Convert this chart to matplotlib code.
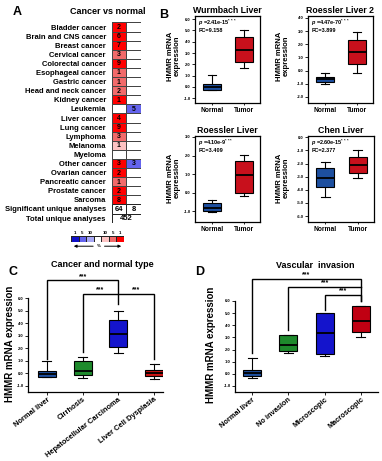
import matplotlib
matplotlib.use('Agg')
import matplotlib.pyplot as plt
import numpy as np
from matplotlib.colors import ListedColormap
from matplotlib.patches import Rectangle

plt.rcParams['font.family'] = ['Liberation Sans', 'DejaVu Sans']
plt.rcParams['font.weight'] = 'bold'
plt.rcParams['axes.labelweight'] = 'bold'
plt.rcParams['mathtext.fontset'] = 'custom'
plt.rcParams['mathtext.rm'] = 'Liberation Sans:bold'
plt.rcParams['mathtext.it'] = 'Liberation Sans:italic:bold'
plt.rcParams['mathtext.bf'] = 'Liberation Sans:bold'

# ---------------- Panel A data ----------------
cancer_types = ['Bladder cancer', 'Brain and CNS cancer', 'Breast cancer', 'Cervical cancer',
                'Colorectal cancer', 'Esophageal cancer', 'Gastric cancer', 'Head and neck cancer',
                'Kidney cancer', 'Leukemia', 'Liver cancer', 'Lung cancer', 'Lymphoma', 'Melanoma',
                'Myeloma', 'Other cancer', 'Ovarian cancer', 'Pancreatic cancer', 'Prostate cancer',
                'Sarcoma']
over_counts = [2, 6, 7, 3, 9, 1, 1, 2, 1, 0, 4, 9, 3, 1, 0, 3, 2, 1, 2, 8]
over_rank = [1, 1, 1, 5, 1, 5, 5, 5, 1, 0, 1, 1, 5, 10, 0, 1, 1, 5, 1, 1]
under_counts = [0, 0, 0, 0, 0, 0, 0, 0, 0, 5, 0, 0, 0, 0, 0, 3, 0, 0, 0, 0]
under_rank = [0, 0, 0, 0, 0, 0, 0, 0, 0, 5, 0, 0, 0, 0, 0, 5, 0, 0, 0, 0]
summary_labels = ['Significant unique analyses', 'Total unique analyses']
sig_unique = [64, 8]
total_unique = 452
legend_labels = ['1', '5', '10', '', '10', '5', '1']

# ---------------- Panel B data (whislo, q1, med, q3, whishi) ----------------
b_groups = ['Normal', 'Tumor']
wurmbach_normal = [-0.3, -0.27, 0.0, 0.27, 1.05]
wurmbach_tumor = [1.65, 2.2, 3.3, 4.4, 5.0]
roessler2_normal = [-1.0, -0.85, -0.6, -0.45, -0.15]
roessler2_tumor = [-0.15, 0.5, 1.4, 2.3, 2.9]
roessler_normal = [-1.05, -1.0, -0.8, -0.58, -0.37]
roessler_tumor = [-0.2, 0.0, 0.95, 1.73, 2.05]
chen_normal = [-4.55, -3.8, -3.1, -2.3, -1.9]
chen_tumor = [-3.1, -2.75, -2.1, -1.5, -1.0]
b_pvals = ['2.41e-15', '4.47e-70', '4.10e-9', '2.60e-15']
b_fc = ['9.158', '3.899', '3.409', '2.377']

# ---------------- Panel C data ----------------
c_groups = ['Normal liver', 'Cirrhosis', 'Hepatocellular Carcinoma', 'Liver Cell Dysplasia']
c_normal_liver = [-0.3, -0.3, -0.05, 0.15, 1.0]
c_cirrhosis = [-0.35, -0.15, 0.15, 1.0, 1.3]
c_hcc = [1.6, 2.1, 3.15, 4.27, 5.0]
c_lcd = [-0.45, -0.2, 0.0, 0.25, 0.7]

# ---------------- Panel D data ----------------
d_groups = ['Normal liver', 'No invasion', 'Microscopic', 'Macroscopic']
d_normal_liver = [-0.35, -0.2, 0.05, 0.3, 1.3]
d_no_invasion = [1.75, 1.9, 2.4, 3.2, 3.2]
d_microscopic = [1.45, 1.65, 3.4, 5.05, 5.05]
d_macroscopic = [3.0, 3.45, 4.35, 5.6, 5.6]

W, H = 382, 461
fig = plt.figure(figsize=(W / 100, H / 100), dpi=100)


def rect(x0, y0, x1, y1):
    return [x0 / W, 1 - y1 / H, (x1 - x0) / W, (y1 - y0) / H]


def ftext(x, y, s, **kw):
    fig.text(x / W, 1 - y / H, s, **kw)


# ================= Panel A =================
red_cols = {1: '#ff0000', 5: '#f26a6a', 10: '#fcc2c2'}
blue_cols = {1: '#1010c8', 5: '#6464ee', 10: '#a8a8f4'}
cat_colors = ['#ffffff', red_cols[1], red_cols[5], red_cols[10],
              blue_cols[1], blue_cols[5], blue_cols[10]]
rank_idx = {1: 1, 5: 2, 10: 3}
grid = np.zeros((len(cancer_types), 2))
for i in range(len(cancer_types)):
    if over_rank[i]:
        grid[i, 0] = rank_idx[over_rank[i]]
    if under_rank[i]:
        grid[i, 1] = rank_idx[under_rank[i]] + 3

nrows = len(cancer_types) + 2
axA = fig.add_axes(rect(111.5, 22.5, 141.0, 222.6))
axA.pcolormesh(np.arange(3), np.arange(len(cancer_types) + 1), grid,
               cmap=ListedColormap(cat_colors), vmin=-0.5, vmax=6.5,
               edgecolors='#444444', linewidth=0.6)
for i in range(len(cancer_types)):
    if over_counts[i]:
        axA.text(0.5, i + 0.55, str(over_counts[i]), ha='center', va='center', fontsize=5)
    if under_counts[i]:
        axA.text(1.5, i + 0.55, str(under_counts[i]), ha='center', va='center', fontsize=5)
r = len(cancer_types)
for j, v in enumerate(sig_unique):
    axA.add_patch(Rectangle((j, r), 1, 1, fc='white', ec='#222222', lw=0.7))
    axA.text(j + 0.5, r + 0.55, str(v), ha='center', va='center', fontsize=5.5)
axA.add_patch(Rectangle((0, r + 1), 2, 1, fc='white', ec='#222222', lw=0.7))
axA.text(1, r + 1.55, str(total_unique), ha='center', va='center', fontsize=5.5)
axA.set_xlim(0, 2)
axA.set_ylim(nrows, 0)
axA.set_yticks(np.arange(nrows) + 0.5)
axA.set_yticklabels(cancer_types + summary_labels, fontsize=5.5, fontweight='bold')
axA.tick_params(axis='y', length=0, pad=4)
axA.set_xticks([])
for s in axA.spines.values():
    s.set_visible(False)

ftext(108, 11, 'Cancer vs normal', fontsize=6.5, fontweight='bold', ha='center', va='center')
ftext(17, 12, 'A', fontsize=9, fontweight='bold', ha='center', va='center')

# legend
axL = fig.add_axes(rect(71, 236, 124, 242))
leg_colors = [blue_cols[1], blue_cols[5], blue_cols[10], '#ffffff',
              red_cols[10], red_cols[5], red_cols[1]]
axL.pcolormesh(np.arange(len(leg_colors) + 1), [0, 1], np.arange(len(leg_colors))[None, :],
               cmap=ListedColormap(leg_colors), vmin=-0.5, vmax=len(leg_colors) - 0.5,
               edgecolors='#222222', linewidth=0.6)
for k, lab in enumerate(legend_labels):
    axL.text(k + 0.5, 1.25, lab, ha='center', va='bottom', fontsize=3.2)
axL.set_xlim(0, len(leg_colors))
axL.set_ylim(0, 1)
axL.axis('off')
axL.annotate('', xy=(0.0, -0.7), xytext=(0.47, -0.7), xycoords='axes fraction',
             arrowprops=dict(arrowstyle='-|>', lw=0.7, color='black', mutation_scale=4))
axL.annotate('', xy=(1.0, -0.7), xytext=(0.58, -0.7), xycoords='axes fraction',
             arrowprops=dict(arrowstyle='-|>', lw=0.7, color='black', mutation_scale=4))
axL.text(0.525, -0.7, '%', transform=axL.transAxes, ha='center', va='center', fontsize=3.2)

# ================= Panel B =================
NORMAL_BLUE = '#1d4f9f'
TUMOR_RED = '#c8101c'


def mk_stats(vals_list, labels):
    return [dict(whislo=v[0], q1=v[1], med=v[2], q3=v[3], whishi=v[4], label=l)
            for v, l in zip(vals_list, labels)]


def b_panel(r_, title, normal, tumor, ylim, yticks, pval, fc, ylab_xy):
    ax = fig.add_axes(r_)
    bp = ax.bxp(mk_stats([normal, tumor], b_groups), positions=[1, 2], widths=0.55,
                patch_artist=True, showfliers=False,
                boxprops=dict(lw=0.8, edgecolor='black'),
                medianprops=dict(color='black', lw=1.3),
                whiskerprops=dict(lw=0.8), capprops=dict(lw=0.8))
    for patch, c in zip(bp['boxes'], [NORMAL_BLUE, TUMOR_RED]):
        patch.set_facecolor(c)
    ax.set_xlim(0.47, 2.5)
    ax.set_ylim(*ylim)
    ax.set_yticks(yticks)
    ax.set_yticklabels(['%.1f' % t for t in yticks], fontsize=3)
    ax.tick_params(axis='y', length=2, width=0.6, pad=1)
    ax.tick_params(axis='x', length=1.5, width=0.6, pad=1.5, labelsize=4.8)
    for s in ax.spines.values():
        s.set_linewidth(0.9)
    ax.set_title(title, fontsize=6.3, fontweight='bold', pad=2)
    ax.text(0.05, 0.985, r'$\mathit{p}$ =' + pval + r'$^{***}$', transform=ax.transAxes,
            ha='left', va='top', fontsize=4)
    ax.text(0.05, 0.86, 'FC=' + fc, transform=ax.transAxes, ha='left', va='top', fontsize=4)
    ftext(ylab_xy[0], ylab_xy[1], 'HMMR mRNA\nexpression', rotation=90, fontsize=5.6,
          fontweight='bold', ha='center', va='center', linespacing=1.0)
    return ax


b_panel(rect(195, 16, 260, 103), 'Wurmbach Liver', wurmbach_normal, wurmbach_tumor,
        (-1.42, 6.28), np.arange(-1, 7), b_pvals[0], b_fc[0], (174, 56))
b_panel(rect(308, 16, 373, 103), 'Roessler Liver 2', roessler2_normal, roessler2_tumor,
        (-2.46, 4.15), np.arange(-2, 5), b_pvals[1], b_fc[1], (283, 56))
b_panel(rect(195, 136, 260, 222), 'Roessler Liver', roessler_normal, roessler_tumor,
        (-1.58, 3.05), np.arange(-1, 4), b_pvals[2], b_fc[2], (174, 178))
b_panel(rect(308, 136, 374, 222), 'Chen Liver', chen_normal, chen_tumor,
        (-6.45, 0.1), np.arange(-6, 1), b_pvals[3], b_fc[3], (283, 178))
ftext(164, 15, 'B', fontsize=9, fontweight='bold', ha='center', va='center')


# ================= Panels C and D =================
def cd_panel(r_, groups, vals, colors, xlim, brackets, stars, title, title_xy,
             letter_xy, letter, ylab_xy, rot, xfs):
    ax = fig.add_axes(r_)
    pos = np.arange(1, len(groups) + 1)
    bp = ax.bxp(mk_stats(vals, groups), positions=pos, widths=0.5, patch_artist=True,
                showfliers=False,
                boxprops=dict(lw=0.8, edgecolor='black'),
                medianprops=dict(color='black', lw=1.3),
                whiskerprops=dict(lw=0.8), capprops=dict(lw=0.8))
    for patch, c in zip(bp['boxes'], colors):
        patch.set_facecolor(c)
    ax.set_xlim(*xlim)
    ax.set_ylim(-1.5, 6.0)
    yt = np.arange(-1, 7)
    ax.set_yticks(yt)
    ax.set_yticklabels(['%.1f' % t for t in yt], fontsize=3)
    ax.tick_params(axis='y', length=2, width=0.6, pad=1)
    ax.tick_params(axis='x', length=2, width=0.6, pad=1)
    ax.set_xticklabels(groups, rotation=rot, ha='right', rotation_mode='anchor',
                       fontsize=xfs, fontweight='bold')
    for s in ['top', 'right']:
        ax.spines[s].set_visible(False)
    for s in ['left', 'bottom']:
        ax.spines[s].set_linewidth(0.9)
    for (x1, x2, ytop, y1, y2) in brackets:
        ax.plot([x1, x1, x2, x2], [y1, ytop, ytop, y2], color='black', lw=1.0,
                clip_on=False, solid_joinstyle='miter')
    for (sx, sy) in stars:
        ax.text(sx, sy, '***', ha='center', va='bottom', fontsize=5, clip_on=False)
    ftext(title_xy[0], title_xy[1], title, fontsize=6.5, fontweight='bold',
          ha='center', va='center')
    ftext(letter_xy[0], letter_xy[1], letter, fontsize=9, fontweight='bold',
          ha='center', va='center')
    ftext(ylab_xy[0], ylab_xy[1], 'HMMR mRNA expression', rotation=90, fontsize=7,
          fontweight='bold', ha='center', va='center')
    return ax


c_brackets = [(1, 3, 7.4, 1.15, 5.5), (2, 4, 6.3, 1.7, 1.1)]
c_stars = [(2.0, 7.45), (2.5, 6.35), (3.5, 6.35)]
cd_panel(rect(28, 298, 163, 392), c_groups, [c_normal_liver, c_cirrhosis, c_hcc, c_lcd],
         [NORMAL_BLUE, '#1e8a2c', '#1414cc', '#cc1414'], (0.47, 4.25), c_brackets, c_stars,
         'Cancer and normal type', (102, 264), (13, 272), 'C', (10, 344), 38, 5.4)

d_brackets = [(1, 4, 7.8, 1.7, 6.0), (2, 4, 7.15, 3.6, 7.15), (3, 4, 6.5, 5.25, 6.0)]
d_stars = [(2.5, 7.85), (3.0, 7.2), (3.5, 6.55)]
cd_panel(rect(235, 301, 378, 392), d_groups,
         [d_normal_liver, d_no_invasion, d_microscopic, d_macroscopic],
         [NORMAL_BLUE, '#1e8a2c', '#1414cc', '#c00012'], (0.53, 4.47), d_brackets, d_stars,
         'Vascular  invasion', (315, 265), (200, 272), 'D', (211, 345), 40, 5.3)

fig.savefig('out.png', dpi=100)
